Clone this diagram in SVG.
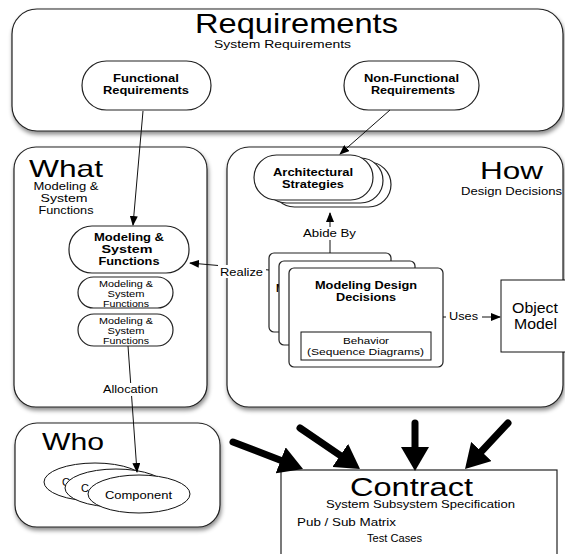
<svg xmlns="http://www.w3.org/2000/svg" width="565" height="554" viewBox="0 0 565 554">
<defs>
<style>
.box{fill:#fff;stroke:#222;stroke-width:1.2}
.sh{filter:url(#shadow)}
.t{font-family:"Liberation Sans",Arial,sans-serif;fill:#000}
.b{font-weight:bold}
.m{text-anchor:middle}
.ln{stroke:#111;stroke-width:1;fill:none}
.big{stroke:#000;stroke-width:7;stroke-linecap:round;fill:none}
</style>
<filter id="shadow" x="-10%" y="-10%" width="120%" height="125%">
<feDropShadow dx="1" dy="3" stdDeviation="2" flood-color="#000" flood-opacity="0.45"/>
</filter>
<marker id="ah" markerUnits="userSpaceOnUse" markerWidth="10" markerHeight="8" refX="9" refY="4" orient="auto">
<path d="M0,0 L10,4 L0,8 z" fill="#000"/>
</marker>
<marker id="bh" markerUnits="userSpaceOnUse" markerWidth="26" markerHeight="28" refX="11" refY="14" orient="auto">
<path d="M0,0 L24,14 L0,28 z" fill="#000"/>
</marker>
</defs>

<g id="requirements">
<rect class="box sh" x="12" y="9" width="551" height="122" rx="25"/>
<text class="t m" x="296.5" y="33" font-size="28" textLength="203" lengthAdjust="spacingAndGlyphs">Requirements</text>
<text class="t m" x="282.5" y="48" font-size="11" textLength="137" lengthAdjust="spacingAndGlyphs">System Requirements</text>
</g>
<g id="functional-requirements">
<rect class="box" x="82" y="61" width="129" height="49" rx="24.5"/>
<text class="t b m" x="146" y="82" font-size="10.5" textLength="66" lengthAdjust="spacingAndGlyphs">Functional</text>
<text class="t b m" x="146" y="94" font-size="10.5" textLength="86" lengthAdjust="spacingAndGlyphs">Requirements</text>
</g>
<g id="non-functional-requirements">
<rect class="box" x="344" y="61" width="135" height="49" rx="24.5"/>
<text class="t b m" x="411.5" y="82" font-size="10.5" textLength="95" lengthAdjust="spacingAndGlyphs">Non-Functional</text>
<text class="t b m" x="413" y="94" font-size="10.5" textLength="84" lengthAdjust="spacingAndGlyphs">Requirements</text>
</g>

<g id="what">
<rect class="box sh" x="14" y="147" width="193" height="260" rx="22"/>
<text class="t" x="29" y="177" font-size="24" textLength="74" lengthAdjust="spacingAndGlyphs">What</text>
<text class="t m" x="66" y="190" font-size="11" textLength="65" lengthAdjust="spacingAndGlyphs">Modeling &amp;</text>
<text class="t m" x="64" y="202" font-size="11" textLength="47" lengthAdjust="spacingAndGlyphs">System</text>
<text class="t m" x="66" y="214" font-size="11" textLength="55" lengthAdjust="spacingAndGlyphs">Functions</text>
</g>
<g id="modeling-system-functions">
<rect class="box" x="69" y="226" width="120" height="47" rx="23"/>
<text class="t b m" x="129" y="241" font-size="11" textLength="70" lengthAdjust="spacingAndGlyphs">Modeling &amp;</text>
<text class="t b m" x="127" y="253" font-size="11" textLength="51" lengthAdjust="spacingAndGlyphs">System</text>
<text class="t b m" x="129" y="265" font-size="11" textLength="61" lengthAdjust="spacingAndGlyphs">Functions</text>
</g>
<g id="modeling-system-functions-2">
<rect class="box" x="78" y="277" width="95" height="31" rx="15.5"/>
<text class="t m" x="126" y="287" font-size="9" textLength="54" lengthAdjust="spacingAndGlyphs">Modeling &amp;</text>
<text class="t m" x="126" y="297" font-size="9" textLength="37" lengthAdjust="spacingAndGlyphs">System</text>
<text class="t m" x="126" y="307" font-size="9" textLength="46" lengthAdjust="spacingAndGlyphs">Functions</text>
</g>
<g id="modeling-system-functions-3">
<rect class="box" x="78" y="314" width="95" height="32" rx="16"/>
<text class="t m" x="126" y="324" font-size="9" textLength="54" lengthAdjust="spacingAndGlyphs">Modeling &amp;</text>
<text class="t m" x="126" y="334" font-size="9" textLength="37" lengthAdjust="spacingAndGlyphs">System</text>
<text class="t m" x="126" y="344" font-size="9" textLength="46" lengthAdjust="spacingAndGlyphs">Functions</text>
</g>

<g id="how">
<rect class="box sh" x="227" y="147" width="336" height="260" rx="22"/>
<text class="t" x="480" y="179" font-size="24" textLength="63" lengthAdjust="spacingAndGlyphs">How</text>
<text class="t" x="461" y="195" font-size="11" textLength="101" lengthAdjust="spacingAndGlyphs">Design Decisions</text>
</g>
<g id="architectural-strategies">
<rect class="box" x="272" y="162" width="119" height="45" rx="22.5"/>
<rect class="box" x="264" y="158" width="119" height="45" rx="22.5"/>
<rect class="box" x="254" y="155" width="119" height="45" rx="22.5"/>
<text class="t b m" x="313" y="176" font-size="11" textLength="80" lengthAdjust="spacingAndGlyphs">Architectural</text>
<text class="t b m" x="313" y="188" font-size="11" textLength="62" lengthAdjust="spacingAndGlyphs">Strategies</text>
</g>
<g id="modeling-design-decisions">
<rect class="box" x="269" y="253" width="122" height="79" rx="5"/>
<text class="t b" x="276" y="292" font-size="11">M</text>
<rect class="box" x="279" y="261" width="136" height="84" rx="5"/>
<rect class="box" x="289" y="268" width="154" height="99" rx="5"/>
<text class="t b m" x="366" y="289" font-size="11" textLength="102" lengthAdjust="spacingAndGlyphs">Modeling Design</text>
<text class="t b m" x="366" y="301" font-size="11" textLength="60" lengthAdjust="spacingAndGlyphs">Decisions</text>
<rect x="301" y="332" width="130" height="28" fill="#fff" stroke="#111" stroke-width="1"/>
<text class="t m" x="366" y="344" font-size="9.5" textLength="46" lengthAdjust="spacingAndGlyphs">Behavior</text>
<text class="t m" x="365.5" y="355" font-size="9.5" textLength="117" lengthAdjust="spacingAndGlyphs">(Sequence Diagrams)</text>
</g>
<g id="object-model">
<rect x="501" y="280" width="80" height="72" fill="#fff" stroke="#111" stroke-width="1"/>
<text class="t m" x="535" y="313" font-size="15" textLength="46" lengthAdjust="spacingAndGlyphs">Object</text>
<text class="t m" x="535.5" y="329" font-size="15" textLength="43" lengthAdjust="spacingAndGlyphs">Model</text>
</g>

<g id="who">
<rect class="box sh" x="15" y="423" width="205" height="104" rx="22"/>
<text class="t" x="42" y="450" font-size="24" textLength="62" lengthAdjust="spacingAndGlyphs">Who</text>
</g>
<g id="components">
<ellipse cx="95" cy="482" rx="51" ry="19" fill="#fff" stroke="#111" stroke-width="1"/>
<text class="t" x="62" y="486" font-size="11">C</text>
<ellipse cx="116" cy="488" rx="51" ry="19" fill="#fff" stroke="#111" stroke-width="1"/>
<text class="t" x="81" y="492" font-size="11">C</text>
<ellipse cx="139" cy="494" rx="51" ry="19" fill="#fff" stroke="#111" stroke-width="1"/>
<text class="t m" x="138.5" y="499" font-size="11" textLength="67" lengthAdjust="spacingAndGlyphs">Component</text>
</g>

<g id="contract">
<rect x="281" y="470" width="276" height="100" fill="#fff" stroke="#222" stroke-width="1.2"/>
<text class="t m" x="411.5" y="496" font-size="25" textLength="123" lengthAdjust="spacingAndGlyphs">Contract</text>
<text class="t m" x="420.5" y="508" font-size="11" textLength="189" lengthAdjust="spacingAndGlyphs">System Subsystem Specification</text>
<text class="t" x="297" y="526" font-size="11" textLength="99" lengthAdjust="spacingAndGlyphs">Pub / Sub Matrix</text>
<text class="t" x="367" y="542" font-size="11" textLength="55" lengthAdjust="spacingAndGlyphs">Test Cases</text>
</g>

<g id="connectors">
<line class="ln" x1="143" y1="111" x2="133" y2="225" marker-end="url(#ah)"/>
<line class="ln" x1="390" y1="110" x2="340" y2="154" marker-end="url(#ah)"/>
<line class="ln" x1="330" y1="253" x2="330" y2="213" marker-end="url(#ah)"/>
<rect x="303" y="227" width="54" height="13" fill="#fff"/>
<text class="t m" x="329.5" y="237" font-size="11" textLength="53" lengthAdjust="spacingAndGlyphs">Abide By</text>
<line class="ln" x1="269" y1="270" x2="190" y2="263" marker-end="url(#ah)"/>
<rect x="218" y="265" width="48" height="13" fill="#fff"/>
<text class="t" x="220" y="276" font-size="11" textLength="43" lengthAdjust="spacingAndGlyphs">Realize</text>
<line class="ln" x1="443" y1="317" x2="500" y2="317" marker-end="url(#ah)"/>
<rect x="446" y="309" width="36" height="14" fill="#fff"/>
<text class="t" x="449" y="320" font-size="11" textLength="29" lengthAdjust="spacingAndGlyphs">Uses</text>
<line class="ln" x1="128" y1="346" x2="137" y2="472" marker-end="url(#ah)"/>
<rect x="101" y="383" width="60" height="13" fill="#fff"/>
<text class="t m" x="130.5" y="393" font-size="11" textLength="55" lengthAdjust="spacingAndGlyphs">Allocation</text>
<line class="big" x1="233" y1="442" x2="290.9" y2="464.3" marker-end="url(#bh)"/>
<line class="big" x1="300" y1="428" x2="349.3" y2="461.6" marker-end="url(#bh)"/>
<line class="big" x1="415" y1="423" x2="415" y2="458" marker-end="url(#bh)"/>
<line class="big" x1="508" y1="423" x2="473.9" y2="459.5" marker-end="url(#bh)"/>
</g>
</svg>
